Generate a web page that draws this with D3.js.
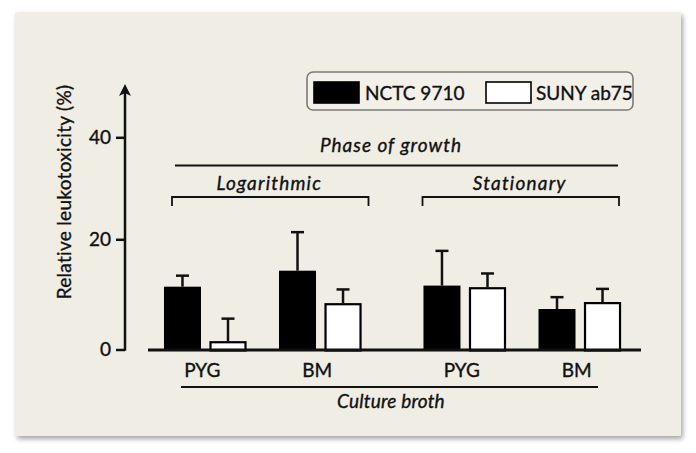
<!DOCTYPE html>
<html>
<head>
<meta charset="utf-8">
<script src="https://cdn.jsdelivr.net/npm/d3@7"></script>
<style>
  html, body { margin: 0; padding: 0; background: #ffffff; }
  svg { display: block; }
  text { font-family: Lato, "Open Sans", sans-serif; fill: #111; stroke: #111; stroke-width: 0.35px; }
</style>
</head>
<body>
<svg id="chart" width="696" height="453"></svg>
<script>
// ---- data ----
const phases = ["Logarithmic", "Stationary"];
const media = ["PYG", "BM"];
const strains = ["NCTC 9710", "SUNY ab75"];
// mean relative leukotoxicity (%) per phase, medium: [NCTC 9710, SUNY ab75]
const logMeans  = [[11.4, 1.5], [14.3, 8.4]];
const statMeans = [[11.6, 11.3], [7.35, 8.6]];
// upper error (SD)
const logErr  = [[2.0, 4.1], [7.1, 2.5]];
const statErr = [[6.3, 2.5], [2.15, 2.4]];
const yTicks = [0, 20, 40];
const yLabel = "Relative leukotoxicity (%)";
const phaseTitle = "Phase of growth";
const brothTitle = "Culture broth";

const rows = [];
[logMeans, statMeans].forEach((means, pi) => {
  means.forEach((pair, mi) => {
    pair.forEach((v, si) => {
      rows.push({
        phase: phases[pi], medium: media[mi], strain: strains[si],
        value: v, err: [logErr, statErr][pi][mi][si]
      });
    });
  });
});

const svg = d3.select("#chart");

// ---- panel with shadow ----
const defs = svg.append("defs");
const f = defs.append("filter").attr("id", "shadow")
  .attr("x", "-5%").attr("y", "-5%").attr("width", "110%").attr("height", "112%");
f.append("feDropShadow").attr("dx", 2).attr("dy", 3).attr("stdDeviation", 2.5)
  .attr("flood-color", "#000").attr("flood-opacity", 0.35);
svg.append("rect").attr("x", 15).attr("y", 12).attr("width", 666).attr("height", 424)
  .attr("rx", 2).attr("fill", "#efede4").attr("filter", "url(#shadow)");

// ---- scales ----
const x0 = d3.scaleBand().domain(phases).range([133, 652]);
const x1 = d3.scaleBand().domain(media).range([0, x0.bandwidth()]).paddingOuter(0.128);
const x2 = d3.scaleBand().domain(strains).range([0, x1.bandwidth()])
  .paddingInner(0.187).paddingOuter(0.357);
const y = d3.scaleLinear().domain([0, 20, 40]).range([349.5, 239.3, 137.3]);
const color = d3.scaleOrdinal().domain(strains).range(["#000000", "#ffffff"]);

const barX = d => x0(d.phase) + x1(d.medium) + x2(d.strain);
const axisX = 125;

// ---- y axis ----
const yAxis = svg.append("g").attr("transform", `translate(${axisX},0)`)
  .call(d3.axisLeft(y).tickValues(yTicks).tickSize(9).tickPadding(5));
yAxis.select(".domain").remove();
yAxis.selectAll(".tick line").attr("stroke", "#111").attr("stroke-width", 2.5);
yAxis.selectAll(".tick text").style("font-family", "Lato, sans-serif")
  .style("font-size", "19px").attr("fill", "#111");

svg.append("line").attr("x1", axisX).attr("x2", axisX)
  .attr("y1", y(0) + 1.2).attr("y2", 92)
  .attr("stroke", "#111").attr("stroke-width", 2.5);
svg.append("path")
  .attr("d", `M${axisX},84 L${axisX + 6},96 L${axisX},93 L${axisX - 6},96 Z`)
  .attr("fill", "#111");

svg.append("text")
  .attr("transform", `translate(71,192) rotate(-90)`)
  .attr("text-anchor", "middle")
  .style("font-size", "19px")
  .style("letter-spacing", "0.3px")
  .text(yLabel);

// ---- bars ----
svg.append("g").selectAll("rect").data(rows).join("rect")
  .attr("x", d => barX(d) + (d.strain === strains[1] ? 1 : 0))
  .attr("width", d => x2.bandwidth() - (d.strain === strains[1] ? 2 : 0))
  .attr("y", d => y(d.value) + (d.strain === strains[1] ? 1 : 0))
  .attr("height", d => y(0) - y(d.value))
  .attr("fill", d => color(d.strain))
  .attr("stroke", d => d.strain === strains[1] ? "#000" : "none")
  .attr("stroke-width", 2.2);

// ---- error bars ----
const eg = svg.append("g").attr("stroke", "#111").attr("stroke-width", 2.5);
rows.forEach(d => {
  const cx = barX(d) + x2.bandwidth() / 2;
  eg.append("line").attr("x1", cx).attr("x2", cx)
    .attr("y1", y(d.value)).attr("y2", y(d.value + d.err));
  eg.append("line").attr("x1", cx - 6.5).attr("x2", cx + 6.5)
    .attr("y1", y(d.value + d.err)).attr("y2", y(d.value + d.err));
});

// ---- baseline ----
svg.append("line").attr("x1", 148).attr("x2", 641)
  .attr("y1", y(0) + 0.5).attr("y2", y(0) + 0.5)
  .attr("stroke", "#111").attr("stroke-width", 3);

// ---- media labels ----
const mediaLabels = [];
phases.forEach(p => media.forEach(m => mediaLabels.push({ p, m })));
svg.append("g").selectAll("text").data(mediaLabels).join("text")
  .attr("x", d => x0(d.p) + x1(d.m) + x1.bandwidth() / 2 - 3)
  .attr("y", 377)
  .attr("text-anchor", "middle")
  .style("font-size", "19px")
  .text(d => d.m);

svg.append("line").attr("x1", 181).attr("x2", 598).attr("y1", 387).attr("y2", 387)
  .attr("stroke", "#111").attr("stroke-width", 1.8);
svg.append("text").attr("x", 391).attr("y", 408).attr("text-anchor", "middle")
  .style("font-size", "19px").style("font-style", "italic").style("letter-spacing", "0.2px")
  .text(brothTitle);

// ---- phase annotation ----
svg.append("text").attr("x", 391).attr("y", 152).attr("text-anchor", "middle")
  .style("font-size", "19px").style("font-style", "italic").style("letter-spacing", "1px")
  .text(phaseTitle);
svg.append("line").attr("x1", 175).attr("x2", 618).attr("y1", 165.5).attr("y2", 165.5)
  .attr("stroke", "#111").attr("stroke-width", 1.8);

const brackets = [
  { p: phases[0], l: 39, r: 24 },
  { p: phases[1], l: 30, r: 33 }
];
brackets.forEach(b => {
  const xa = x0(b.p) + b.l, xb = x0(b.p) + x0.bandwidth() - b.r;
  svg.append("path")
    .attr("d", `M${xa},206 L${xa},197 L${xb},197 L${xb},206`)
    .attr("fill", "none").attr("stroke", "#111").attr("stroke-width", 1.8);
  svg.append("text").attr("x", (xa + xb) / 2 - 1).attr("y", 190).attr("text-anchor", "middle")
    .style("font-size", "19px").style("font-style", "italic").style("letter-spacing", "1.2px")
    .text(b.p);
});

// ---- legend ----
const lg = svg.append("g");
lg.append("rect").attr("x", 307).attr("y", 72).attr("width", 326).attr("height", 38)
  .attr("rx", 6).attr("fill", "#f2f0e9").attr("stroke", "#7a7a7a").attr("stroke-width", 1.6);
const legendItems = [
  { s: strains[0], sx: 314, tx: 365 },
  { s: strains[1], sx: 486, tx: 536 }
];
legendItems.forEach(it => {
  lg.append("rect").attr("x", it.sx).attr("y", 82).attr("width", 45).attr("height", 21)
    .attr("fill", color(it.s)).attr("stroke", "#000").attr("stroke-width", 1.6);
  lg.append("text").attr("x", it.tx).attr("y", 100)
    .style("font-size", "19px").text(it.s);
});
</script>
</body>
</html>
